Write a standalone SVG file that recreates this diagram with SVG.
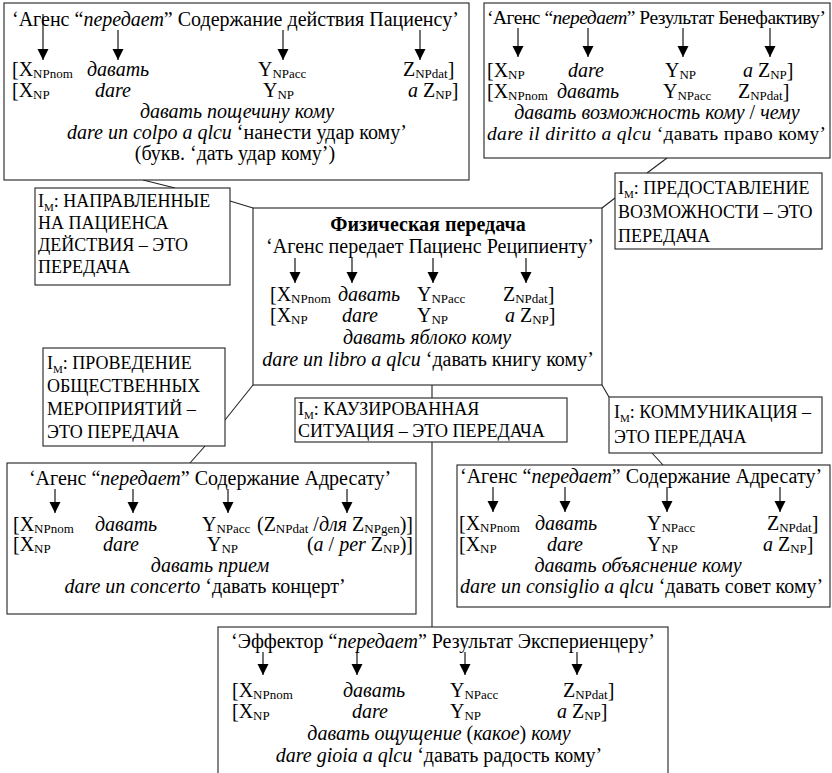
<svg xmlns="http://www.w3.org/2000/svg" width="832" height="773" viewBox="0 0 832 773" font-family="'Liberation Serif','Times New Roman',serif">
<defs>
<marker id="ah" viewBox="0 0 12 12" refX="11" refY="6" markerWidth="12" markerHeight="12" markerUnits="userSpaceOnUse" orient="auto"><path d="M0,0.5 L11,6 L0,11.5 z" fill="#000"/></marker>
</defs>
<style>
text{font-family:"Liberation Serif","Times New Roman",serif;font-size:20px;fill:#000}
.i{font-style:italic}
.b{font-weight:bold}
.s{font-size:13px}
.m{font-size:11px}
.im{font-size:18px}
.c{text-anchor:middle}
.e{text-anchor:end}
.box{fill:#fff;stroke:#222;stroke-width:1.1}
.ln{stroke:#222;stroke-width:1.1;fill:none}
.ar{stroke:#000;stroke-width:1.1;fill:none;marker-end:url(#ah)}
</style>
<rect width="832" height="773" fill="#fff"/>

<!-- connectors between the frames -->
<g id="connectors">
<line class="ln" x1="143" y1="180" x2="175" y2="188"/>
<line class="ln" x1="230" y1="201" x2="253" y2="208"/>
<line class="ln" x1="667" y1="158" x2="647" y2="173"/>
<line class="ln" x1="615" y1="198" x2="602" y2="208"/>
<line class="ln" x1="253" y1="385" x2="225" y2="420"/>
<line class="ln" x1="205" y1="446" x2="190" y2="463"/>
<line class="ln" x1="432" y1="385" x2="432" y2="398"/>
<line class="ln" x1="432" y1="442" x2="432" y2="627"/>
<line class="ln" x1="602" y1="385" x2="609" y2="397"/>
<line class="ln" x1="652" y1="453" x2="663" y2="465"/>
</g>

<!-- action content to patient -->
<g id="n1">
<rect class="box" x="4" y="3" width="465" height="177"/>
<text x="12" y="26">‘Агенс “<tspan class="i">передает</tspan>” Содержание действия Пациенсу’</text>
<line class="ar" x1="43" y1="14" x2="43" y2="60"/>
<line class="ar" x1="118" y1="30" x2="118" y2="60"/>
<line class="ar" x1="283" y1="30" x2="283" y2="60"/>
<line class="ar" x1="420" y1="30" x2="420" y2="60"/>
<text x="12" y="76">[X<tspan class="s" dy="2">NPnom</tspan></text>
<text class="i" x="87" y="76">давать</text>
<text x="258" y="76">Y<tspan class="s" dy="2">NPacc</tspan></text>
<text x="403" y="76">Z<tspan class="s" dy="2">NPdat</tspan><tspan dy="-2">]</tspan></text>
<text x="12" y="97">[X<tspan class="s" dy="2">NP</tspan></text>
<text class="i" x="95" y="97">dare</text>
<text x="263" y="97">Y<tspan class="s" dy="2">NP</tspan></text>
<text x="408" y="97"><tspan class="i">a</tspan> Z<tspan class="s" dy="2">NP</tspan><tspan dy="-2">]</tspan></text>
<text class="i c" x="237" y="118">давать пощечину кому</text>
<text class="c" x="237" y="139"><tspan class="i">dare un colpo a qlcu</tspan> ‘нанести удар кому’</text>
<text class="c" x="235" y="160">(букв. ‘дать удар кому’)</text>
</g>

<!-- result to benefactive -->
<g id="n2">
<rect class="box" x="484" y="3" width="346" height="155"/>
<text x="487" y="24" style="font-size:19.5px" textLength="339" lengthAdjust="spacing">‘Агенс “<tspan class="i">передает</tspan>” Результат Бенефактиву’</text>
<line class="ar" x1="518" y1="28" x2="518" y2="57"/>
<line class="ar" x1="588" y1="28" x2="588" y2="57"/>
<line class="ar" x1="683" y1="28" x2="683" y2="57"/>
<line class="ar" x1="770" y1="28" x2="770" y2="57"/>
<text x="487" y="77">[X<tspan class="s" dy="2">NP</tspan></text>
<text class="i" x="568" y="77">dare</text>
<text x="665" y="77">Y<tspan class="s" dy="2">NP</tspan></text>
<text x="743" y="77"><tspan class="i">a</tspan> Z<tspan class="s" dy="2">NP</tspan><tspan dy="-2">]</tspan></text>
<text x="487" y="98">[X<tspan class="s" dy="2">NPnom</tspan></text>
<text class="i" x="557" y="98">давать</text>
<text x="663" y="98">Y<tspan class="s" dy="2">NPacc</tspan></text>
<text x="738" y="98">Z<tspan class="s" dy="2">NPdat</tspan><tspan dy="-2">]</tspan></text>
<text class="c" x="657" y="119"><tspan class="i">давать возможность кому</tspan> / <tspan class="i">чему</tspan></text>
<text x="487" y="140" style="font-size:19.5px" textLength="339" lengthAdjust="spacing"><tspan class="i">dare il diritto a qlcu</tspan> ‘давать право кому’</text>
</g>

<!-- metaphor: patient-directed actions -->
<g id="n3">
<rect class="box" x="35" y="188" width="195" height="97"/>
<text class="im" x="38" y="207">I<tspan class="m" dy="4">M</tspan><tspan dy="-4">: НАПРАВЛЕННЫЕ</tspan></text>
<text class="im" x="38" y="229">НА ПАЦИЕНСА</text>
<text class="im" x="38" y="251">ДЕЙСТВИЯ – ЭТО</text>
<text class="im" x="38" y="273">ПЕРЕДАЧА</text>
</g>

<!-- central frame: physical transfer -->
<g id="n4">
<rect class="box" x="253" y="208" width="349" height="177"/>
<text class="b c" x="428" y="231">Физическая передача</text>
<text class="c" x="430" y="253">‘Агенс передает Пациенс Реципиенту’</text>
<line class="ar" x1="295" y1="258" x2="295" y2="283"/>
<line class="ar" x1="352" y1="258" x2="352" y2="283"/>
<line class="ar" x1="433" y1="258" x2="433" y2="283"/>
<line class="ar" x1="526" y1="258" x2="526" y2="283"/>
<text x="270" y="301">[X<tspan class="s" dy="2">NPnom</tspan></text>
<text class="i" x="338" y="301">давать</text>
<text x="417" y="301">Y<tspan class="s" dy="2">NPacc</tspan></text>
<text x="503" y="301">Z<tspan class="s" dy="2">NPdat</tspan><tspan dy="-2">]</tspan></text>
<text x="270" y="322">[X<tspan class="s" dy="2">NP</tspan></text>
<text class="i" x="342" y="322">dare</text>
<text x="417" y="322">Y<tspan class="s" dy="2">NP</tspan></text>
<text x="505" y="322"><tspan class="i">a</tspan> Z<tspan class="s" dy="2">NP</tspan><tspan dy="-2">]</tspan></text>
<text class="i c" x="427" y="344">давать яблоко кому</text>
<text class="c" x="428" y="366"><tspan class="i">dare un libro a qlcu</tspan> ‘давать книгу кому’</text>
</g>

<!-- metaphor: granting a possibility -->
<g id="n5">
<rect class="box" x="615" y="173" width="207" height="76"/>
<text class="im" x="618" y="194">I<tspan class="m" dy="4">M</tspan><tspan dy="-4">: ПРЕДОСТАВЛЕНИЕ</tspan></text>
<text class="im" x="618" y="218">ВОЗМОЖНОСТИ – ЭТО</text>
<text class="im" x="618" y="242">ПЕРЕДАЧА</text>
</g>

<!-- metaphor: public events -->
<g id="n6">
<rect class="box" x="43" y="348" width="182" height="98"/>
<text class="im" x="47" y="369">I<tspan class="m" dy="4">M</tspan><tspan dy="-4">: ПРОВЕДЕНИЕ</tspan></text>
<text class="im" x="47" y="392">ОБЩЕСТВЕННЫХ</text>
<text class="im" x="47" y="415">МЕРОПРИЯТИЙ –</text>
<text class="im" x="47" y="438">ЭТО ПЕРЕДАЧА</text>
</g>

<!-- metaphor: caused situation -->
<g id="n7">
<rect class="box" x="295" y="398" width="272" height="44"/>
<text class="im" x="298" y="415">I<tspan class="m" dy="4">M</tspan><tspan dy="-4">: КАУЗИРОВАННАЯ</tspan></text>
<text class="im" x="298" y="437">СИТУАЦИЯ – ЭТО ПЕРЕДАЧА</text>
</g>

<!-- metaphor: communication -->
<g id="n8">
<rect class="box" x="609" y="397" width="213" height="56"/>
<text class="im" x="614" y="418">I<tspan class="m" dy="4">M</tspan><tspan dy="-4">: КОММУНИКАЦИЯ –</tspan></text>
<text class="im" x="614" y="443">ЭТО ПЕРЕДАЧА</text>
</g>

<!-- content to addressee: events -->
<g id="n9">
<rect class="box" x="7" y="463" width="409" height="151"/>
<text class="c" x="210" y="485">‘Агенс “<tspan class="i">передает</tspan>” Содержание Адресату’</text>
<line class="ar" x1="55" y1="489" x2="55" y2="513"/>
<line class="ar" x1="133" y1="489" x2="133" y2="513"/>
<line class="ar" x1="228" y1="489" x2="228" y2="513"/>
<line class="ar" x1="347" y1="489" x2="347" y2="513"/>
<text x="13" y="531">[X<tspan class="s" dy="2">NPnom</tspan></text>
<text class="i" x="95" y="531">давать</text>
<text x="202" y="531">Y<tspan class="s" dy="2">NPacc</tspan></text>
<text class="e" x="413" y="531">(Z<tspan class="s" dy="2">NPdat</tspan><tspan dy="-2"> /</tspan><tspan class="i">для</tspan> Z<tspan class="s" dy="2">NPgen</tspan><tspan dy="-2">)]</tspan></text>
<text x="13" y="551">[X<tspan class="s" dy="2">NP</tspan></text>
<text class="i" x="103" y="551">dare</text>
<text x="207" y="551">Y<tspan class="s" dy="2">NP</tspan></text>
<text class="e" x="413" y="551">(<tspan class="i">a</tspan> / <tspan class="i">per</tspan> Z<tspan class="s" dy="2">NP</tspan><tspan dy="-2">)]</tspan></text>
<text class="i c" x="210" y="572">давать прием</text>
<text class="c" x="205" y="593"><tspan class="i">dare un concerto</tspan> ‘давать концерт’</text>
</g>

<!-- content to addressee: communication -->
<g id="n10">
<rect class="box" x="457" y="465" width="373" height="142"/>
<text x="460" y="483">‘Агенс “<tspan class="i">передает</tspan>” Содержание Адресату’</text>
<line class="ar" x1="493" y1="487" x2="493" y2="512"/>
<line class="ar" x1="565" y1="487" x2="565" y2="512"/>
<line class="ar" x1="667" y1="487" x2="667" y2="512"/>
<line class="ar" x1="780" y1="487" x2="780" y2="512"/>
<text x="459" y="530">[X<tspan class="s" dy="2">NPnom</tspan></text>
<text class="i" x="535" y="530">давать</text>
<text x="647" y="530">Y<tspan class="s" dy="2">NPacc</tspan></text>
<text x="767" y="530">Z<tspan class="s" dy="2">NPdat</tspan><tspan dy="-2">]</tspan></text>
<text x="459" y="551">[X<tspan class="s" dy="2">NP</tspan></text>
<text class="i" x="547" y="551">dare</text>
<text x="647" y="551">Y<tspan class="s" dy="2">NP</tspan></text>
<text x="763" y="551"><tspan class="i">a</tspan> Z<tspan class="s" dy="2">NP</tspan><tspan dy="-2">]</tspan></text>
<text class="i c" x="638" y="572">давать объяснение кому</text>
<text x="460" y="593"><tspan class="i">dare un consiglio a qlcu</tspan> ‘давать совет кому’</text>
</g>

<!-- effector: result to experiencer -->
<g id="n11">
<rect class="box" x="218" y="627" width="450" height="160"/>
<text class="c" x="443" y="648">‘Эффектор “<tspan class="i">передает</tspan>” Результат Экспериенцеру’</text>
<line class="ar" x1="263" y1="652" x2="263" y2="675"/>
<line class="ar" x1="357" y1="652" x2="357" y2="675"/>
<line class="ar" x1="465" y1="652" x2="465" y2="675"/>
<line class="ar" x1="577" y1="652" x2="577" y2="675"/>
<text x="232" y="697">[X<tspan class="s" dy="2">NPnom</tspan></text>
<text class="i" x="343" y="697">давать</text>
<text x="450" y="697">Y<tspan class="s" dy="2">NPacc</tspan></text>
<text x="563" y="697">Z<tspan class="s" dy="2">NPdat</tspan><tspan dy="-2">]</tspan></text>
<text x="232" y="718">[X<tspan class="s" dy="2">NP</tspan></text>
<text class="i" x="352" y="718">dare</text>
<text x="450" y="718">Y<tspan class="s" dy="2">NP</tspan></text>
<text x="557" y="718"><tspan class="i">a</tspan> Z<tspan class="s" dy="2">NP</tspan><tspan dy="-2">]</tspan></text>
<text class="c" x="439" y="740"><tspan class="i">давать ощущение</tspan> (<tspan class="i">какое</tspan>) <tspan class="i">кому</tspan></text>
<text class="c" x="439" y="762"><tspan class="i">dare gioia a qlcu</tspan> ‘давать радость кому’</text>
</g>
</svg>
